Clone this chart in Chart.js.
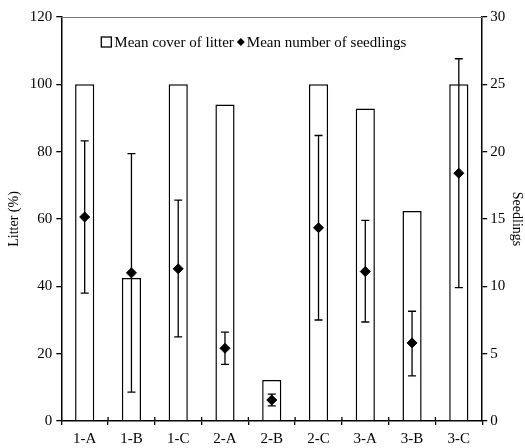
<!DOCTYPE html>
<html lang="en">
<head>
<meta charset="UTF-8">
<title>Litter and seedlings</title>
<script src="https://cdn.jsdelivr.net/npm/chart.js"></script>
<style>
    html, body { margin: 0; padding: 0; background: #fff; }
    #wrap { width: 525px; height: 448px; }
</style>
</head>
<body>
<div id="wrap"><canvas id="chart"></canvas></div>
<script>
    // data
    const sites = ['1-A', '1-B', '1-C', '2-A', '2-B', '2-C', '3-A', '3-B', '3-C'];
    const litterCover = [100, 42.5, 100, 94, 12.2, 100, 92.8, 62.4, 100];
    const seedlingMean = [15.15, 11.0, 11.3, 5.4, 1.56, 14.35, 11.1, 5.8, 18.4];
    const seedlingHigh = [20.8, 19.85, 16.4, 6.6, 2.0, 21.2, 14.9, 8.15, 26.9];
    const seedlingLow = [9.5, 2.15, 6.25, 4.2, 1.12, 7.5, 7.35, 3.35, 9.9];
    const legendLabels = ['Mean cover of litter', 'Mean number of seedlings'];

    const serif = 'Liberation Serif';

    const extras = {
        id: 'extras',
        // error bars go on top of the bars but under the diamonds
        beforeDatasetDraw(chart, args) {
            if (args.index !== 1) return;
            const ctx = chart.ctx;
            const x = chart.scales.x;
            const y = chart.scales.y1;
            ctx.save();
            ctx.strokeStyle = '#000';
            ctx.lineWidth = 1.3;
            for (let i = 0; i < sites.length; i++) {
                const px = x.getPixelForValue(i);
                const top = y.getPixelForValue(seedlingHigh[i]);
                const bot = y.getPixelForValue(seedlingLow[i]);
                ctx.beginPath();
                ctx.moveTo(px, top); ctx.lineTo(px, bot);
                ctx.moveTo(px - 4, top); ctx.lineTo(px + 4, top);
                ctx.moveTo(px - 4, bot); ctx.lineTo(px + 4, bot);
                ctx.stroke();
            }
            ctx.restore();
        },
        afterDraw(chart) {
            const a = chart.chartArea;
            const ctx = chart.ctx;
            const x = chart.scales.x;
            ctx.save();
            // thin frame line along the top
            ctx.strokeStyle = '#777';
            ctx.lineWidth = 1;
            ctx.beginPath();
            ctx.moveTo(a.left, a.top + 0.5);
            ctx.lineTo(a.right, a.top + 0.5);
            ctx.stroke();
            // inner half of the x ticks (they cross the axis)
            ctx.strokeStyle = '#000';
            ctx.lineWidth = 1.3;
            ctx.beginPath();
            for (let i = 0; i < sites.length - 1; i++) {
                const px = (x.getPixelForValue(i) + x.getPixelForValue(i + 1)) / 2;
                ctx.moveTo(px, a.bottom);
                ctx.lineTo(px, a.bottom - 4);
            }
            ctx.stroke();

            // legend inside the plot, near the top
            const ly = a.top + 25;
            let lx = a.left + 40;
            ctx.font = '15px ' + serif;
            ctx.textBaseline = 'middle';
            ctx.fillStyle = '#fff';
            ctx.lineWidth = 1.3;
            ctx.fillRect(lx, ly - 5, 10, 10);
            ctx.strokeRect(lx, ly - 5, 10, 10);
            ctx.fillStyle = '#000';
            lx += 13;
            ctx.fillText(legendLabels[0], lx, ly + 1);
            lx += ctx.measureText(legendLabels[0]).width + 7;
            ctx.beginPath();
            ctx.moveTo(lx, ly - 4);
            ctx.lineTo(lx + 4, ly);
            ctx.lineTo(lx, ly + 4);
            ctx.lineTo(lx - 4, ly);
            ctx.closePath();
            ctx.fill();
            ctx.fillText(legendLabels[1], lx + 6, ly + 1);
            ctx.restore();
        }
    };

    new Chart(document.getElementById('chart'), {
        data: {
            labels: sites,
            datasets: [{
                type: 'bar',
                label: legendLabels[0],
                data: litterCover,
                yAxisID: 'y',
                backgroundColor: '#fff',
                borderColor: '#000',
                borderWidth: 1.5,
                barPercentage: 0.41,
                categoryPercentage: 1,
                order: 2
            }, {
                type: 'line',
                label: legendLabels[1],
                data: seedlingMean,
                yAxisID: 'y1',
                showLine: false,
                pointStyle: 'rectRot',
                pointRadius: 5,
                pointHoverRadius: 5,
                backgroundColor: '#000',
                borderColor: '#000',
                order: 1
            }]
        },
        options: {
            responsive: true,
            maintainAspectRatio: false,
            animation: false,
            layout: { padding: { top: 17, left: 4, right: 0, bottom: -6 } },
            plugins: {
                tooltip: { enabled: false },
                legend: { display: false }
            },
            scales: {
                x: {
                    offset: true,
                    grid: { display: true, offset: true, drawOnChartArea: false, tickLength: 4, color: '#000', lineWidth: 1.3 },
                    border: { color: '#000', width: 1.5 },
                    ticks: { color: '#000', font: { family: serif, size: 15, lineHeight: 1 }, padding: 7, maxRotation: 0 }
                },
                y: {
                    position: 'left',
                    min: 0, max: 120,
                    ticks: { stepSize: 20, color: '#000', font: { family: serif, size: 15 }, padding: 4 },
                    grid: { drawOnChartArea: false, tickLength: 5, color: '#000', lineWidth: 1.3 },
                    border: { color: '#000', width: 1.5 },
                    title: { display: true, text: 'Litter (%)', color: '#000', font: { family: serif, size: 14 }, padding: { top: 2, bottom: 3 } }
                },
                y1: {
                    position: 'right',
                    min: 0, max: 30,
                    ticks: { stepSize: 5, color: '#000', font: { family: serif, size: 15 }, padding: 3 },
                    grid: { drawOnChartArea: false, tickLength: 5, color: '#000', lineWidth: 1.3 },
                    border: { color: '#000', width: 1.5 },
                    title: { display: true, text: 'Seedlings', color: '#000', font: { family: serif, size: 14 }, padding: 0 }
                }
            }
        },
        plugins: [extras]
    });
</script>
</body>
</html>
